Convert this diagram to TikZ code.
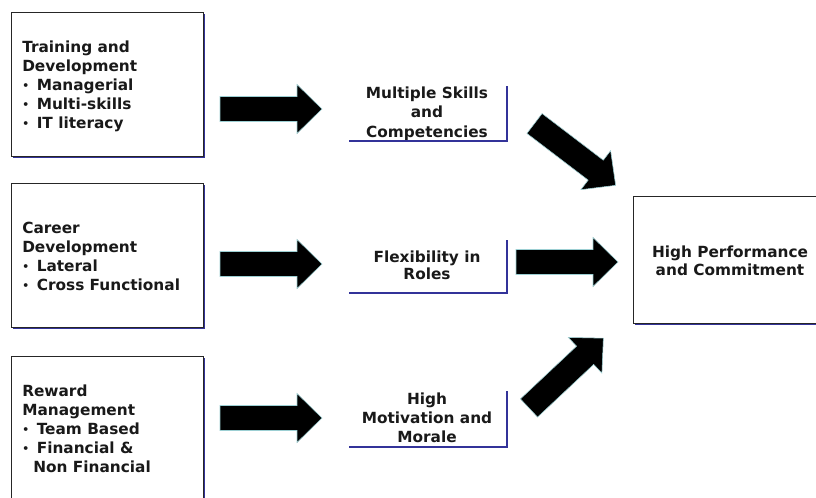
\documentclass[tikz,border=0pt]{standalone}
\usepackage{fontspec}
\setmainfont{DejaVu Sans}
\usetikzlibrary{shadows}
\definecolor{navy}{HTML}{333399}
\definecolor{arrowedge}{HTML}{9CCFD3}
\newcommand{\smbul}{\raisebox{0.12ex}{\scalebox{0.7}{•}}\hspace{0.5em}}
\begin{document}
\begin{tikzpicture}[x=0.75pt,y=-0.75pt,
  txt/.style={font=\bfseries\fontsize{11.5}{14.25}\selectfont, inner sep=0pt, text=black!90},
  box/.style={draw=black!85, line width=0.75pt, fill=white,
    general shadow={fill=navy, shadow xshift=1.6pt, shadow yshift=-1.6pt}},
  bracket/.style={draw=navy, line width=2pt},
  bigarrow/.pic={\filldraw[fill=black, draw=arrowedge, line width=0.4pt]
    (0,-12.5) -- (77,-12.5) -- (77,-24.5) -- (102,0) -- (77,24.5) -- (77,12.5) -- (0,12.5) -- cycle;}
]
\useasboundingbox (0,0) rectangle (816,497);
\clip (0,0) rectangle (816,497);

% left boxes
\node[box, minimum width=144pt, minimum height=108pt] (train) at (107,84) {};
\node[box, minimum width=144pt, minimum height=108pt] (career) at (107,255) {};
\node[box, minimum width=144pt, minimum height=108pt] (reward) at (107,428) {};

\node[txt, align=left, anchor=north west] (traintxt) at (22,40.3)
  {Training and\\Development\\\smbul Managerial\\\smbul Multi-skills\\\smbul IT literacy};
\node[txt, align=left, anchor=north west] (careertxt) at (22,222.3)
  {Career\\Development\\\smbul Lateral\\\smbul Cross Functional};
\node[txt, align=left, anchor=north west] (rewardtxt) at (22,384.3)
  {Reward\\Management\\\smbul Team Based\\\smbul Financial \&\\\hspace{0.72em}Non Financial};

% right box
\node[box, minimum width=145.5pt, minimum height=95.25pt] (perf) at (730,259.5) {};
\node[txt, align=center, anchor=north, font=\bfseries\fontsize{11.5}{13.5}\selectfont] (perftxt) at (730,245.3)
  {High Performance\\and Commitment};

% middle outcomes
\node[txt, align=center, anchor=north, font=\bfseries\fontsize{11.5}{14.6}\selectfont] (skills) at (427,86.3)
  {Multiple Skills\\and\\Competencies};
\node[txt, align=center, anchor=north, font=\bfseries\fontsize{11.5}{13.2}\selectfont] (flex) at (427,250.3)
  {Flexibility in\\Roles};
\node[txt, align=center, anchor=north, font=\bfseries\fontsize{11.5}{14.25}\selectfont] (motiv) at (427,392.3)
  {High\\Motivation and\\Morale};

\draw[bracket] (349,141) -- (507,141) -- (507,86);
\draw[bracket] (349,293) -- (507,293) -- (507,240);
\draw[bracket] (349,447) -- (507,447) -- (507,391);

% block arrows
\pic at (220,109) {bigarrow};
\pic at (220,264) {bigarrow};
\pic at (220,418) {bigarrow};
\pic at (516,262) {bigarrow};
\pic[rotate=-37.3] at (534.5,123.5) {bigarrow};
\pic[rotate=43.2] at (529,408) {bigarrow};
\end{tikzpicture}
\end{document}
